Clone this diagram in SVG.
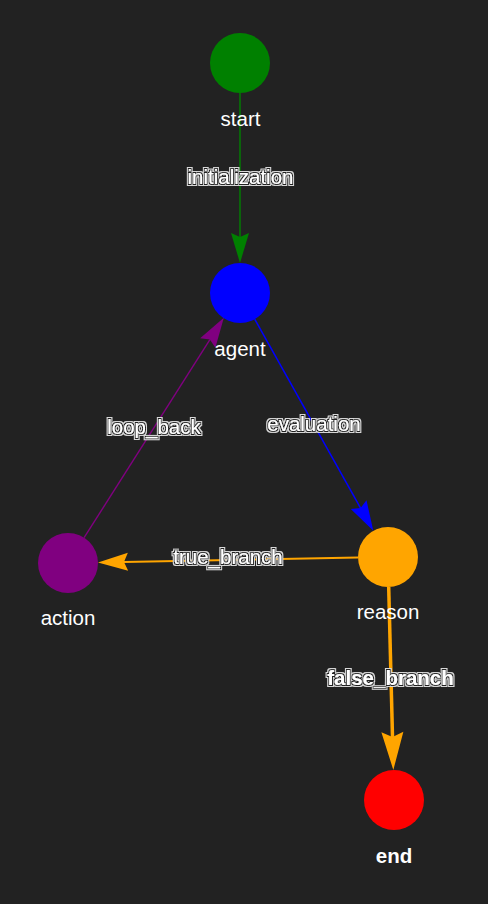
<svg xmlns="http://www.w3.org/2000/svg" width="488" height="904" viewBox="0 0 488 904">
<style>
.bg{fill:#222222}
.nl{font-family:"Liberation Sans",Arial,sans-serif;font-size:20.5px;fill:#ffffff;text-anchor:middle}
.el{font-family:"Liberation Sans",Arial,sans-serif;font-size:20.5px;fill:#ffffff;text-anchor:middle;filter:url(#halo)}
.e{fill:none}
</style>
<defs>
<filter id="halo" x="-10%" y="-30%" width="120%" height="160%">
<feMorphology in="SourceAlpha" operator="dilate" radius="1.6" result="d2"/>
<feFlood flood-color="#d8d8d8" result="f2"/>
<feComposite in="f2" in2="d2" operator="in" result="outer"/>
<feMorphology in="SourceAlpha" operator="dilate" radius="0.8" result="d1"/>
<feFlood flood-color="#222222" result="f1"/>
<feComposite in="f1" in2="d1" operator="in" result="inner"/>
<feMerge><feMergeNode in="outer"/><feMergeNode in="inner"/><feMergeNode in="SourceGraphic"/></feMerge>
</filter>
<marker id="ag" markerUnits="userSpaceOnUse" viewBox="-5 -10 32 20" refX="0" refY="0" markerWidth="32" markerHeight="20" orient="auto"><path d="M26,0 L-4,-9 L0,0 L-4,9 Z" fill="#008000"/></marker>
<marker id="ab" markerUnits="userSpaceOnUse" viewBox="-5 -10 32 20" refX="0" refY="0" markerWidth="32" markerHeight="20" orient="auto"><path d="M26,0 L-4,-9 L0,0 L-4,9 Z" fill="#0000ff"/></marker>
<marker id="ap" markerUnits="userSpaceOnUse" viewBox="-5 -10 32 20" refX="0" refY="0" markerWidth="32" markerHeight="20" orient="auto"><path d="M26,0 L-4,-9 L0,0 L-4,9 Z" fill="#800080"/></marker>
<marker id="ao" markerUnits="userSpaceOnUse" viewBox="-5 -10 32 20" refX="0" refY="0" markerWidth="32" markerHeight="20" orient="auto"><path d="M26,0 L-4,-9 L0,0 L-4,9 Z" fill="#ffa500"/></marker>
<marker id="aoL" markerUnits="userSpaceOnUse" viewBox="-6 -12 40 24" refX="0" refY="0" markerWidth="40" markerHeight="24" orient="auto"><path d="M33,0 L-5,-11 L0,0 L-5,11 Z" fill="#ffa500"/></marker>
</defs>
<rect class="bg" x="0" y="0" width="488" height="904"/>
<g id="connectors">
<g id="e-initialization">
<path class="e" d="M240,93 L240,237" stroke="#008000" stroke-width="1.4" marker-end="url(#ag)"/>
<text class="el" x="240.5" y="184">initialization</text>
</g>
<g id="e-evaluation">
<path class="e" d="M254.7,319.2 L360.6,508.1" stroke="#0000ff" stroke-width="1.5" marker-end="url(#ab)"/>
<text class="el" x="314" y="431">evaluation</text>
</g>
<g id="e-true_branch">
<path class="e" d="M358,557.6 L124,561.9" stroke="#ffa500" stroke-width="2" marker-end="url(#ao)"/>
<text class="el" x="228" y="564">true_branch</text>
</g>
<g id="e-loop_back">
<path class="e" d="M84.1,537.7 L209.9,339.6" stroke="#800080" stroke-width="1.4" marker-end="url(#ap)"/>
<text class="el" x="154" y="434">loop_back</text>
</g>
<g id="e-false_branch">
<path class="e" d="M388.7,587 L392.5,737" stroke="#ffa500" stroke-width="3.5" marker-end="url(#aoL)"/>
<text class="el" x="390.5" y="685" font-weight="bold">false_branch</text>
</g>
</g>
<g id="node-start"><circle cx="240" cy="63" r="30" fill="#008000"/><text class="nl" x="240.5" y="126">start</text></g>
<g id="node-agent"><circle cx="240" cy="293" r="30" fill="#0000ff"/><text class="nl" x="240" y="356">agent</text></g>
<g id="node-action"><circle cx="68" cy="563" r="30" fill="#800080"/><text class="nl" x="68" y="625">action</text></g>
<g id="node-reason"><circle cx="388" cy="557" r="30" fill="#ffa500"/><text class="nl" x="388" y="619">reason</text></g>
<g id="node-end"><circle cx="394" cy="800" r="30" fill="#ff0000"/><text class="nl" x="394" y="863" font-weight="bold">end</text></g>
</svg>
